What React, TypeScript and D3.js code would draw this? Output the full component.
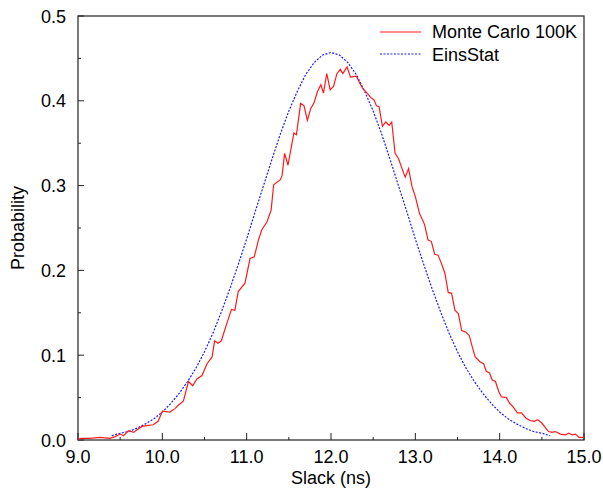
import React from 'react';
import * as d3 from 'd3';

// Monte Carlo 100K histogram
const mcX = [
  9.0, 9.04, 9.14, 9.26, 9.38, 9.44, 9.5, 9.54, 9.6, 9.66, 9.7, 9.76, 9.81, 9.89, 9.95,
  10.0, 10.09, 10.15, 10.19, 10.25, 10.31, 10.36, 10.41, 10.47, 10.53, 10.59, 10.62, 10.66, 10.7, 10.76,
  10.82, 10.86, 10.9, 10.98, 11.04, 11.09, 11.14, 11.18, 11.24, 11.29, 11.32, 11.4, 11.42, 11.45, 11.49,
  11.56, 11.59, 11.64, 11.68, 11.72, 11.76, 11.8, 11.84, 11.88, 11.91, 11.95, 11.99, 12.03, 12.07, 12.11,
  12.14, 12.19, 12.23, 12.3, 12.34, 12.38, 12.42, 12.47, 12.51, 12.54, 12.57, 12.61, 12.65, 12.69, 12.72,
  12.76, 12.8, 12.85, 12.88, 12.92, 12.96, 13.0, 13.05, 13.11, 13.15, 13.19, 13.23, 13.27, 13.31, 13.35,
  13.39, 13.43, 13.47, 13.51, 13.55, 13.6, 13.64, 13.68, 13.71, 13.77, 13.81, 13.84, 13.88, 13.91, 13.95,
  13.99, 14.02, 14.08, 14.12, 14.16, 14.21, 14.26, 14.31, 14.36, 14.41, 14.45, 14.5, 14.54, 14.58, 14.62,
  14.66, 14.72, 14.78, 14.82, 14.86, 14.9, 14.94, 15.0,
];
const mcY = [
  0.001, 0.002, 0.002, 0.003, 0.002, 0.004, 0.007, 0.005, 0.011, 0.009, 0.012, 0.016, 0.017, 0.018, 0.022,
  0.034, 0.033, 0.037, 0.041, 0.046, 0.069, 0.064, 0.072, 0.076, 0.09, 0.098, 0.117, 0.114, 0.117, 0.136,
  0.154, 0.153, 0.175, 0.185, 0.214, 0.216, 0.236, 0.248, 0.257, 0.271, 0.301, 0.307, 0.312, 0.338, 0.324,
  0.362, 0.36, 0.397, 0.394, 0.377, 0.391, 0.398, 0.411, 0.419, 0.409, 0.432, 0.413, 0.417, 0.432, 0.437,
  0.432, 0.44, 0.428, 0.429, 0.421, 0.414, 0.41, 0.404, 0.401, 0.394, 0.393, 0.37, 0.375, 0.371, 0.375,
  0.338, 0.332, 0.318, 0.31, 0.32, 0.299, 0.287, 0.267, 0.254, 0.236, 0.234, 0.219, 0.218, 0.208, 0.197,
  0.174, 0.173, 0.153, 0.149, 0.129, 0.127, 0.123, 0.108, 0.098, 0.092, 0.09, 0.081, 0.079, 0.071, 0.069,
  0.057, 0.051, 0.05, 0.043, 0.039, 0.032, 0.032, 0.026, 0.023, 0.022, 0.024, 0.02, 0.015, 0.01, 0.009,
  0.01, 0.007, 0.006, 0.008, 0.006, 0.007, 0.003, 0.003,
];

// EinsStat curve, 9.4 .. 14.6 every 0.1
const esStart = 9.4;
const esStep = 0.1;
const esY = [
  0.005, 0.008, 0.01, 0.014, 0.019, 0.025, 0.033, 0.043, 0.055, 0.069, 0.085, 0.104, 0.126, 0.151,
  0.178, 0.207, 0.237, 0.269, 0.3, 0.331, 0.361, 0.388, 0.411, 0.431, 0.445, 0.454, 0.457,
  0.454, 0.445, 0.431, 0.411, 0.388, 0.361, 0.331, 0.3, 0.269, 0.237, 0.207, 0.178, 0.151, 0.126,
  0.104, 0.085, 0.069, 0.055, 0.043, 0.033, 0.025, 0.019, 0.014, 0.01, 0.008, 0.005,
];

const xTicks = [9, 10, 11, 12, 13, 14, 15];
const xMinor = [9.5, 10.5, 11.5, 12.5, 13.5, 14.5];
const yTicks = [0, 0.1, 0.2, 0.3, 0.4, 0.5];
const yMinor = [0.05, 0.15, 0.25, 0.35, 0.45];
const legendNames = ['Monte Carlo 100K', 'EinsStat'];

const W = 603;
const H = 491;
const left = 78, right = 584, top = 16, bottom = 440;
const font = '"Liberation Sans", Arial, sans-serif';
const fs = 18;

export default function App() {
  const x = d3.scaleLinear().domain([9, 15]).range([left, right]);
  const y = d3.scaleLinear().domain([0, 0.5]).range([bottom, top]);

  const mcData: [number, number][] = mcX.map((v, i) => [v, mcY[i]]);
  const esData: [number, number][] = esY.map((v, i) => [esStart + i * esStep, v]);

  const line = d3.line<[number, number]>().x(d => x(d[0])).y(d => y(d[1]));

  return (
    <svg width={W} height={H} style={{ position: 'absolute', left: 0, top: 0, background: '#fff' }}
      fontFamily={font}>
      {/* frame */}
      <rect x={left} y={top} width={right - left} height={bottom - top}
        fill="none" stroke="#222" strokeWidth={1.2} />

      {/* y ticks */}
      {yTicks.map(t => (
        <g key={'y' + t}>
          <line x1={left} x2={left + 6} y1={y(t)} y2={y(t)} stroke="#222" />
          <text x={66} y={y(t) + 6.5} textAnchor="end" fontSize={fs}>{t.toFixed(1)}</text>
        </g>
      ))}
      {yMinor.map(t => (
        <line key={'ym' + t} x1={left} x2={left + 3} y1={y(t)} y2={y(t)} stroke="#222" />
      ))}

      {/* x ticks */}
      {xTicks.map(t => (
        <g key={'x' + t}>
          <line x1={x(t)} x2={x(t)} y1={bottom} y2={bottom - 7} stroke="#222" />
          <text x={x(t)} y={463} textAnchor="middle" fontSize={fs}>{t.toFixed(1)}</text>
        </g>
      ))}
      {xMinor.map(t => (
        <line key={'xm' + t} x1={x(t)} x2={x(t)} y1={bottom} y2={bottom - 3} stroke="#222" />
      ))}

      {/* curves */}
      <path d={line(esData) || ''} fill="none" stroke="#1a1aff" strokeWidth={1.2} strokeDasharray="2,1.5" />
      <path d={line(mcData) || ''} fill="none" stroke="#ff1a1a" strokeWidth={1.2} />

      {/* axis labels */}
      <text x={331} y={484} textAnchor="middle" fontSize={fs}>Slack (ns)</text>
      <text transform={`translate(24,228) rotate(-90)`} textAnchor="middle" fontSize={fs}>Probability</text>

      {/* legend */}
      <line x1={380} x2={421} y1={32} y2={32} stroke="#ff1a1a" strokeWidth={1.2} />
      <text x={432} y={37.5} fontSize={fs}>{legendNames[0]}</text>
      <line x1={380} x2={421} y1={54} y2={54} stroke="#1a1aff" strokeWidth={1.2} strokeDasharray="2,1.5" />
      <text x={432} y={60.5} fontSize={fs}>{legendNames[1]}</text>
    </svg>
  );
}
